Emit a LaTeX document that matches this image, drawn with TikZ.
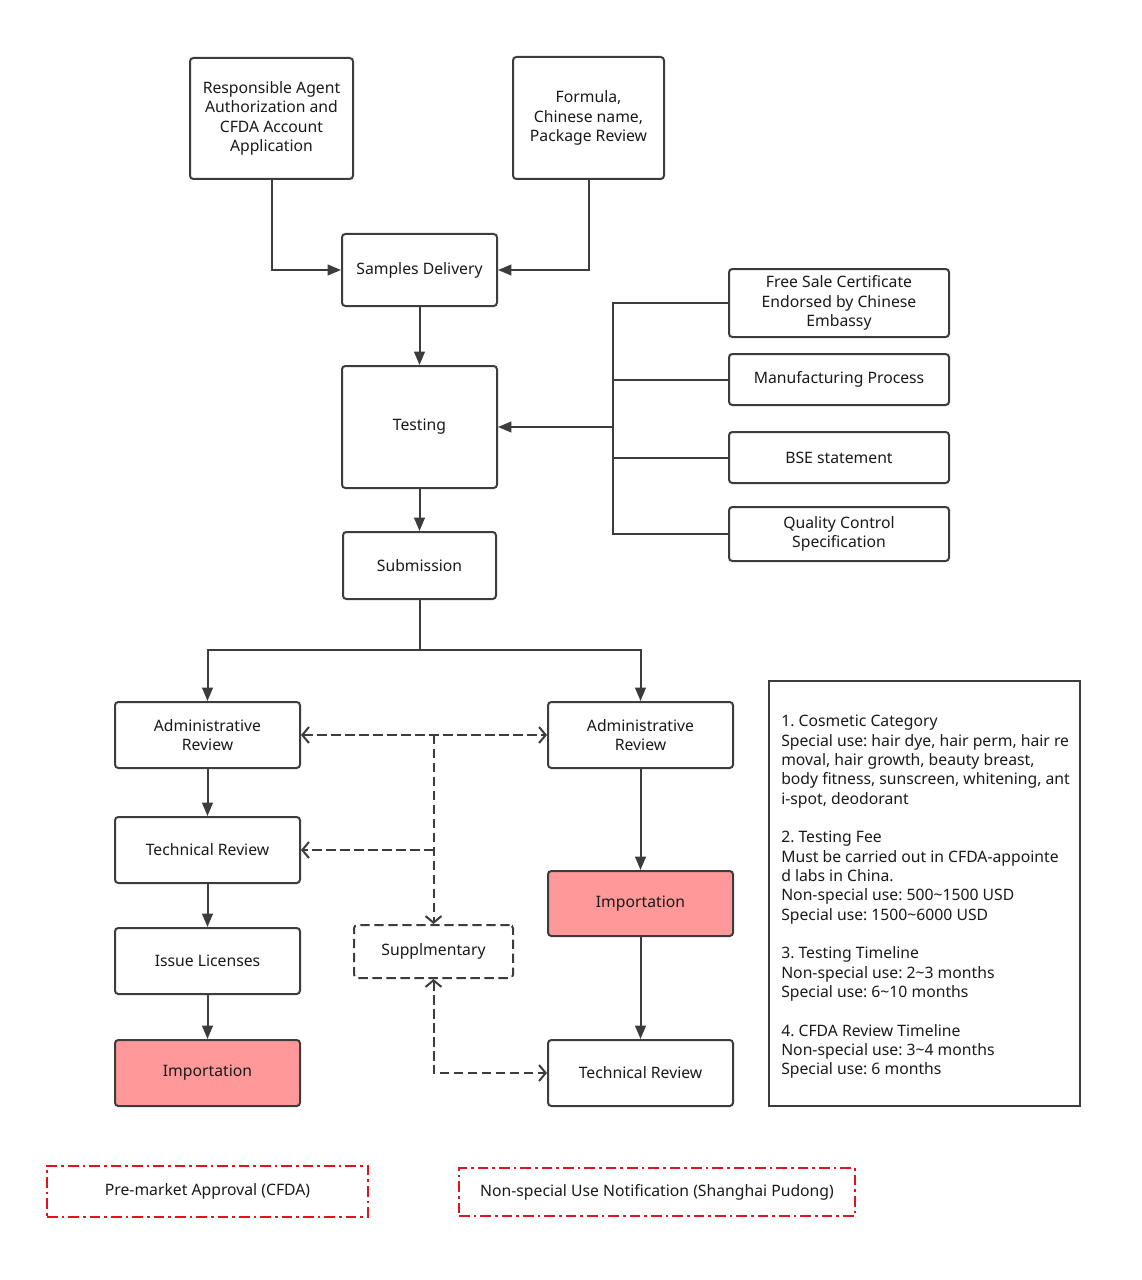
\documentclass[tikz,border=0pt]{standalone}
\usepackage{fontspec}
\setmainfont{Noto Sans}
\usetikzlibrary{arrows.meta}
\definecolor{ln}{HTML}{3C3C3C}
\definecolor{txt}{HTML}{1A1A1A}
\definecolor{pinkf}{HTML}{FF9999}
\definecolor{redd}{HTML}{E0141E}
\frenchspacing
\begin{document}
\begin{tikzpicture}[x=0.75pt,y=-0.75pt,
  font=\fontsize{11.8}{14.5}\selectfont, text=txt,
  sz/.style 2 args={minimum width=#1*0.75pt, minimum height=#2*0.75pt},
  box/.style={draw=ln, line width=1.5pt, rounded corners=2.5pt, align=center, inner sep=0pt, fill=white},
  hot/.style={box, fill=pinkf},
  conn/.style={draw=ln, line width=1.5pt, -{Triangle[length=10pt,width=8pt]}},
  bus/.style={draw=ln, line width=1.5pt},
  dconn/.style={draw=ln, line width=1.5pt, dash pattern=on 7pt off 3.5pt,
    arrows={Straight Barb[length=5pt,width=12pt]-Straight Barb[length=5pt,width=12pt]}},
  dconnr/.style={draw=ln, line width=1.5pt, dash pattern=on 7pt off 3.5pt,
    arrows={-Straight Barb[length=5pt,width=12pt]}},
  redbox/.style={draw=redd, line width=1.5pt, dash pattern=on 8pt off 3pt on 2pt off 3pt, inner sep=0pt}]
\path[use as bounding box] (0,0) rectangle (1141,1280);

\node[box, sz={163}{121}] (ra) at (271.5,118.5) {Responsible Agent\\Authorization and\\CFDA Account\\Application};
\node[box, sz={151}{122}] (fo) at (588.5,118) {Formula,\\Chinese name,\\Package Review};
\node[box, sz={155}{72}] (sd) at (419.5,270) {Samples Delivery};
\node[box, sz={155}{122}] (te) at (419.5,427) {Testing};
\node[box, sz={153}{67}] (su) at (419.5,565.5) {Submission};

\node[box, sz={220}{68}] (fs) at (839,303) {Free Sale Certificate\\Endorsed by Chinese\\Embassy};
\node[box, sz={220}{51}] (mp) at (839,379.5) {Manufacturing Process};
\node[box, sz={220}{51}] (bs) at (839,457.5) {BSE statement};
\node[box, sz={220}{54}] (qc) at (839,534) {Quality Control\\Specification};

\node[box, sz={185}{66}] (al) at (207.5,735) {Administrative\\Review};
\node[box, sz={185}{66}] (tl) at (207.5,850) {Technical Review};
\node[box, sz={185}{66}] (il) at (207.5,961) {Issue Licenses};
\node[hot, sz={185}{66}] (iml) at (207.5,1073) {Importation};

\node[box, sz={185}{66}] (ar) at (640.5,735) {Administrative\\Review};
\node[hot, sz={185}{65}] (imr) at (640.5,903.5) {Importation};
\node[box, sz={185}{66}] (tr) at (640.5,1073) {Technical Review};

\node[box, sz={159}{53}, dash pattern=on 7pt off 3.5pt] (sp) at (433.5,951.5) {Supplmentary};

% notes
\node[draw=ln, line width=1.5pt, sz={311}{425}, inner sep=0pt] (nb) at (924.5,893.5) {};
\node[anchor=north west, align=left, inner sep=0pt] (nt) at (781,715) {1. Cosmetic Category\\
Special use: hair dye, hair perm, hair re\\
moval, hair growth, beauty breast,\\
body fitness, sunscreen, whitening, ant\\
i-spot, deodorant\\[14.5pt]
2. Testing Fee\\
Must be carried out in CFDA-appointe\\
d labs in China.\\
Non-special use: 500\textasciitilde 1500 USD\\
Special use: 1500\textasciitilde 6000 USD\\[14.5pt]
3. Testing Timeline\\
Non-special use: 2\textasciitilde 3 months\\
Special use: 6\textasciitilde 10 months\\[14.5pt]
4. CFDA Review Timeline\\
Non-special use: 3\textasciitilde 4 months\\
Special use: 6 months};

% legend
\node[redbox, sz={321}{51}] (pm) at (207.5,1191.5) {Pre-market Approval (CFDA)};
\node[redbox, sz={396}{48}] (ns) at (657,1192) {Non-special Use Notification (Shanghai Pudong)};

% connectors top
\draw[conn] (ra.south) |- (sd.west);
\draw[conn] (fo.south) |- (sd.east);
\draw[conn] (sd) -- (te);
\draw[conn] (te) -- (su);

\coordinate (bb) at (613,534);
\draw[bus] (fs.west) -| (bb) -- (qc.west);
\draw[bus] (mp.west) -- (mp.west -| bb);
\draw[bus] (bs.west) -- (bs.west -| bb);
\draw[conn] (bb |- te.east) -- (te.east);

\coordinate (sp1) at (419.5,650);
\draw[conn] (su.south) -- (sp1) -| (al.north);
\draw[conn] (sp1) -| (ar.north);

\draw[conn] (al) -- (tl);
\draw[conn] (tl) -- (il);
\draw[conn] (il) -- (iml);
\draw[conn] (ar) -- (imr);
\draw[conn] (imr) -- (tr);

% dashed
\coordinate (dj) at (433.5,735);
\draw[dconn] (al.east) -- (ar.west);
\draw[dconnr] (dj) -- (sp.north);
\draw[dconnr] (dj |- tl.east) -- (tl.east);
\draw[dconn] (sp.south) |- (tr.west);
\end{tikzpicture}
\end{document}
